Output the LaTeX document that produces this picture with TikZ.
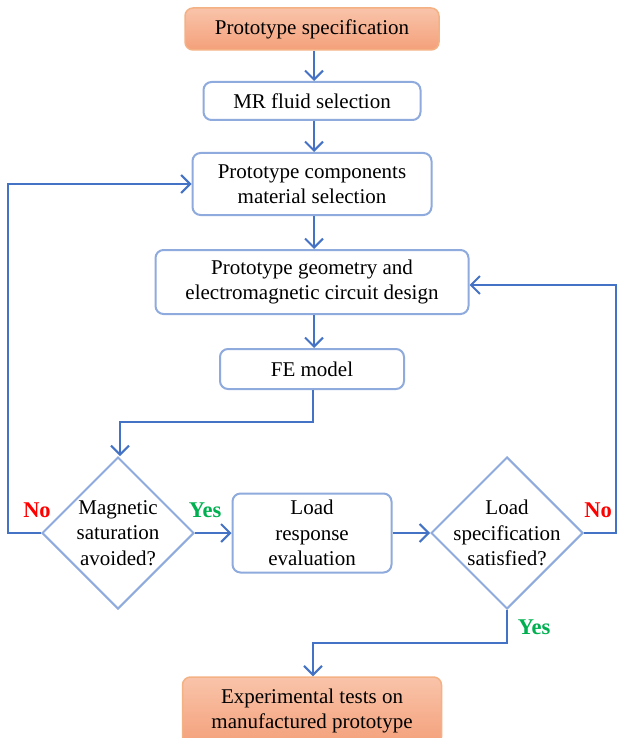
\documentclass[tikz,border=0pt]{standalone}
\usepackage{fontspec}
\setmainfont{Liberation Serif}
\usetikzlibrary{arrows.meta,shapes.geometric}
\definecolor{boxblue}{HTML}{8FAADC}
\definecolor{lineblue}{HTML}{4472C4}
\definecolor{orborder}{HTML}{F4B183}
\definecolor{ortop}{HTML}{F9C4AA}
\definecolor{orbot}{HTML}{F4A07A}
\definecolor{yesgreen}{HTML}{00B050}
\definecolor{nored}{HTML}{FF0000}
\tikzset{
  every node/.style={font=\fontsize{21}{25.5}\selectfont, align=center},
  procbox/.style={draw=boxblue, line width=2pt, rounded corners=8pt, fill=white, inner sep=0pt},
  termbox/.style={draw=orborder, line width=1.5pt, rounded corners=8pt, top color=ortop, bottom color=orbot, inner sep=0pt},
  dia/.style={draw=boxblue, line width=2pt, diamond, aspect=1, minimum width=152pt, minimum height=152pt, inner sep=0pt},
  conn/.style={draw=lineblue, line width=2pt, -{Straight Barb[length=9pt,width=18pt,line width=2pt]}},
  yeslab/.style={text=yesgreen, font=\fontsize{22.5}{24}\selectfont\bfseries},
  nolab/.style={text=nored, font=\fontsize{22.5}{24}\selectfont\bfseries},
}
\begin{document}
\begin{tikzpicture}[x=1pt,y=-1pt]
\useasboundingbox (0,0) rectangle (616,738);
\node[termbox, minimum width=254pt, minimum height=42pt] (spec) at (312,29) {Prototype specification};
\node[procbox, minimum width=217pt, minimum height=38pt] (mr) at (312,101) {MR fluid selection};
\node[procbox, minimum width=239pt, minimum height=62pt] (comp) at (312,184) {Prototype components\\material selection};
\node[procbox, minimum width=313pt, minimum height=64pt] (geom) at (312,282) {Prototype geometry and\\electromagnetic circuit design};
\node[procbox, minimum width=184pt, minimum height=40pt] (fe) at (312,369) {FE model};
\node[dia] (d1) at (118,533) {};
\node (d1t) at (d1) {Magnetic\\saturation\\avoided?};
\node[procbox, minimum width=159pt, minimum height=79pt] (load) at (312,533) {Load\\response\\evaluation};
\node[dia] (d2) at (507,533) {};
\node (d2t) at (d2) {Load\\specification\\satisfied?};
\node[termbox, minimum width=259pt, minimum height=68pt] (exp) at (312,711) {Experimental tests on\\manufactured prototype};

\coordinate (feturn) at (313,422);
\coordinate (d1top) at (120,422);
\coordinate (noL1) at (8,533);
\coordinate (noL2) at (8,184);
\coordinate (noR1) at (616,533);
\coordinate (noR2) at (616,285);
\coordinate (yesB1) at (507,643);
\coordinate (yesB2) at (313,643);

\draw[conn] (spec.south -| 314,0) -- (mr.north -| 314,0);
\draw[conn] (mr.south -| 314,0) -- (comp.north -| 314,0);
\draw[conn] (comp.south -| 314,0) -- (geom.north -| 314,0);
\draw[conn] (geom.south -| 314,0) -- (fe.north -| 314,0);
\draw[conn, line width=1.5pt] (fe.south -| feturn) -- (feturn) -- (d1top) -- (d1.north -| d1top);
\draw[conn, line width=1.5pt] (d1.west) -- (noL1) -- (noL2) -- (comp.west);
\draw[conn] (d1.east) -- (load.west);
\draw[conn] (load.east) -- (d2.west);
\draw[conn, line width=1.5pt] (d2.east) -- (noR1) -- (noR2) -- (geom.east |- noR2);
\draw[conn, line width=1.5pt] (d2.south) -- (yesB1) -- (yesB2) -- (exp.north -| yesB2);

\node[nolab] (no1) at (37,510) {No};
\node[yeslab] (yes1) at (205,510) {Yes};
\node[nolab] (no2) at (598,510) {No};
\node[yeslab] (yes2) at (534,627) {Yes};
\end{tikzpicture}
\end{document}
